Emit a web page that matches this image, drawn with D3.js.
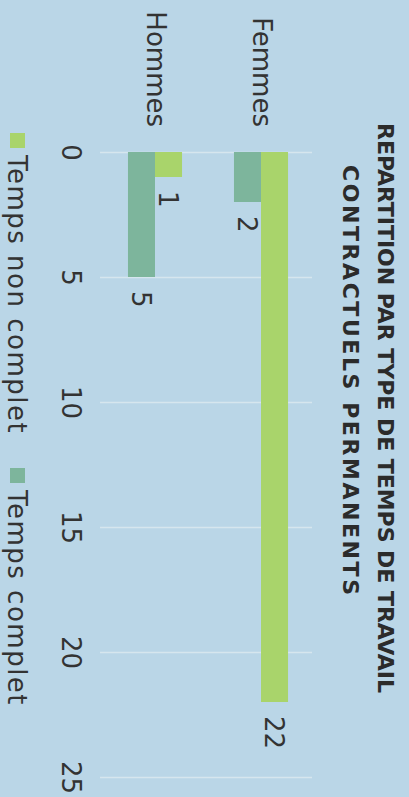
<!DOCTYPE html>
<html><head><meta charset="utf-8">
<script src="https://cdn.jsdelivr.net/npm/d3@7"></script>
<style>html,body{margin:0;padding:0;background:#bad6e7;} svg{display:block}</style>
</head><body>
<script>
const categories = ["Femmes", "Hommes"];
const seriesNames = ["Temps non complet", "Temps complet"];
const tempsNonComplet = [22, 1];
const tempsComplet = [2, 5];
const tickValues = [0, 5, 10, 15, 20, 25];
const titleLines = ["REPARTITION PAR TYPE DE TEMPS DE TRAVAIL", "CONTRACTUELS PERMANENTS"];
const seriesColors = ["#a9d46b", "#7db59c"];

const W = 409, H = 797;
const FONT = "'DejaVu Sans', sans-serif";
const svg = d3.select("body").append("svg").attr("width", W).attr("height", H);
svg.append("rect").attr("width", W).attr("height", H).attr("fill", "#bad6e7");

// The chart is laid out landscape (797 x 409) and turned a quarter turn clockwise.
const g = svg.append("g").attr("transform", `translate(${W},0) rotate(90)`);

const x = d3.scaleLinear().domain([0, 25]).range([152, 777]);
const y0 = d3.scaleBand().domain(categories).range([95, 307]).paddingInner(0.49).paddingOuter(0.245);
const y1 = d3.scaleBand().domain(seriesNames).range([0, y0.bandwidth()]);
const color = d3.scaleOrdinal().domain(seriesNames).range(seriesColors);

const rows = categories.map((c, i) => ({
  category: c,
  values: [
    { series: seriesNames[0], value: tempsNonComplet[i] },
    { series: seriesNames[1], value: tempsComplet[i] }
  ]
}));

// value axis: gridlines + tick labels
const gridBottom = 309, gridTop = 97;
const xAxis = g.append("g").attr("transform", `translate(0,${gridBottom})`)
  .call(d3.axisBottom(x).tickValues(tickValues).tickSize(-(gridBottom - gridTop)).tickPadding(20).tickFormat(d3.format("d")));
xAxis.select(".domain").remove();
xAxis.selectAll("line").attr("stroke", "#d6e6ee").attr("stroke-width", 1.5);
xAxis.selectAll("text").attr("font-family", FONT).attr("font-size", 26).attr("fill", "#333");

// category axis
const yAxis = g.append("g").attr("transform", `translate(${x(0)},0)`)
  .call(d3.axisLeft(y0).tickSize(0).tickPadding(25));
yAxis.select(".domain").remove();
yAxis.selectAll("text").attr("font-family", FONT).attr("font-size", 26).attr("fill", "#333");

// bars
const groups = g.selectAll(".grp").data(rows).join("g")
  .attr("transform", d => `translate(0,${y0(d.category)})`);
groups.selectAll("rect").data(d => d.values).join("rect")
  .attr("x", x(0))
  .attr("y", d => y1(d.series))
  .attr("width", d => x(d.value) - x(0))
  .attr("height", y1.bandwidth())
  .attr("fill", d => color(d.series));

// value labels
groups.selectAll(".lbl").data(d => d.values).join("text")
  .attr("class", "lbl")
  .attr("x", d => x(d.value) + 14)
  .attr("y", d => y1(d.series) + y1.bandwidth() / 2)
  .attr("dy", "0.36em")
  .attr("font-family", FONT).attr("font-size", 26).attr("fill", "#333")
  .text(d => d.value);

// title (two lines)
const titleX = [408, 380];
const titleLen = [570, 430];
g.selectAll(".title").data(titleLines).join("text")
  .attr("class", "title")
  .attr("x", (d, i) => titleX[i])
  .attr("y", (d, i) => 31 + i * 35)
  .attr("text-anchor", "middle")
  .attr("textLength", (d, i) => titleLen[i])
  .attr("lengthAdjust", "spacing")
  .attr("font-family", FONT).attr("font-weight", "bold").attr("font-size", 22).attr("fill", "#2b2b2b")
  .text(d => d);

// legend
const legendX = [133, 468];
const legend = g.selectAll(".leg").data(seriesNames).join("g")
  .attr("transform", (d, i) => `translate(${legendX[i]},384)`);
legend.append("rect").attr("width", 15).attr("height", 15).attr("fill", d => color(d));
legend.append("text").attr("x", 22).attr("y", 7.5).attr("dy", "0.36em")
  .attr("letter-spacing", 1.5)
  .attr("font-family", FONT).attr("font-size", 26).attr("fill", "#333")
  .text(d => d);
</script>
</body></html>
